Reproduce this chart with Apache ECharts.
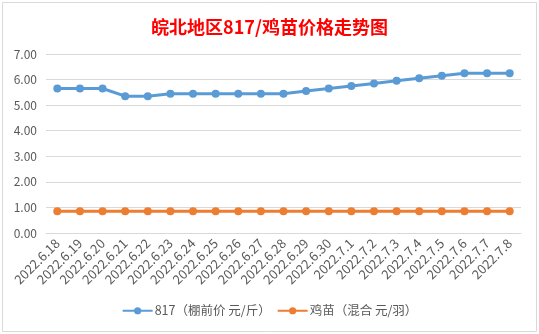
<!DOCTYPE html>
<html><head><meta charset="utf-8">
<script src="https://cdn.jsdelivr.net/npm/echarts@6/dist/echarts.min.js"></script>
<style>html,body{margin:0;padding:0;background:#fff}#c{width:539px;height:334px}</style>
</head><body><div id="c"></div>
<script>
const categories = ['2022.6.18','2022.6.19','2022.6.20','2022.6.21','2022.6.22','2022.6.23','2022.6.24','2022.6.25','2022.6.26','2022.6.27','2022.6.28','2022.6.29','2022.6.30','2022.7.1','2022.7.2','2022.7.3','2022.7.4','2022.7.5','2022.7.6','2022.7.7','2022.7.8'];
const price817 = [5.65,5.65,5.65,5.35,5.35,5.45,5.45,5.45,5.45,5.45,5.45,5.55,5.65,5.75,5.85,5.95,6.05,6.15,6.25,6.25,6.25];
const chickPrice = [0.85,0.85,0.85,0.85,0.85,0.85,0.85,0.85,0.85,0.85,0.85,0.85,0.85,0.85,0.85,0.85,0.85,0.85,0.85,0.85,0.85];
const seriesNames = ['817（棚前价 元/斤）','鸡苗（混合 元/羽）'];
const titleText = '皖北地区817/鸡苗价格走势图';

const chart = echarts.init(document.getElementById('c'), null, {renderer:'canvas'});
const font = '"Microsoft YaHei","Noto Sans CJK SC",sans-serif';
chart.setOption({
  animation:false,
  backgroundColor:'#fff',
  graphic:[{type:'rect',shape:{x:2.5,y:2.5,width:534,height:329},style:{fill:'none',stroke:'#d9d9d9',lineWidth:1},silent:true}],
  title:{text:titleText,left:'center',top:13,textStyle:{color:'#ff0000',fontSize:18,fontWeight:'bold',fontFamily:font}},
  legend:{bottom:12,left:'center',itemWidth:30,itemHeight:9,itemGap:6,
    textStyle:{color:'#595959',fontSize:12.5,fontFamily:font,padding:[0,0,0,-3]},
    data:seriesNames},
  grid:{left:46,right:18,top:54,bottom:101,containLabel:false},
  xAxis:{type:'category',data:categories,boundaryGap:true,
    axisLine:{lineStyle:{color:'#d9d9d9'}},axisTick:{show:false},
    axisLabel:{rotate:45,color:'#595959',fontSize:13,fontFamily:font,interval:0,margin:8}},
  yAxis:{type:'value',min:0,max:7,interval:1,
    axisLabel:{formatter:v=>v.toFixed(2),color:'#595959',fontSize:12,fontFamily:font,margin:9},
    splitLine:{lineStyle:{color:'#d9d9d9'}},axisLine:{show:false},axisTick:{show:false}},
  series:[
    {name:seriesNames[0],type:'line',data:price817,symbol:'circle',symbolSize:8,
     lineStyle:{color:'#5b9bd5',width:3},itemStyle:{color:'#5b9bd5'}},
    {name:seriesNames[1],type:'line',data:chickPrice,symbol:'circle',symbolSize:8,
     lineStyle:{color:'#ed7d31',width:3},itemStyle:{color:'#ed7d31'}}
  ]
});
</script></body></html>
